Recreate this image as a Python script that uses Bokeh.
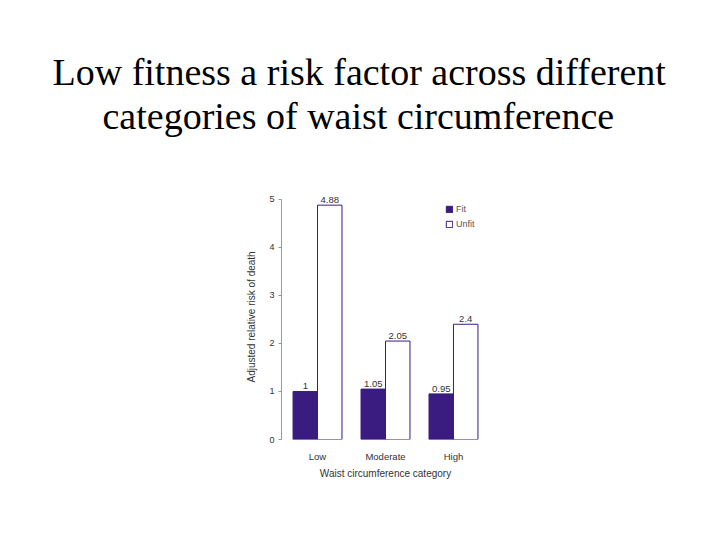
from bokeh.plotting import figure
from bokeh.models import FactorRange, Range1d, Title, ColumnDataSource, Legend, LegendItem, FixedTicker
from bokeh.transform import dodge
from bokeh.core.properties import value
from bokeh.embed import file_html
from bokeh.resources import INLINE

# data
categories = ["Low", "Moderate", "High"]
fit = [1.0, 1.05, 0.95]
unfit = [4.88, 2.05, 2.4]
fit_labels = ["1", "1.05", "0.95"]
unfit_labels = ["4.88", "2.05", "2.4"]
y_ticks = [0, 1, 2, 3, 4, 5]

PURPLE = "#3a1b80"
GREY = "#333333"
SANS = "Liberation Sans"

source = ColumnDataSource(data=dict(cat=categories, fit=fit, unfit=unfit,
                                    fit_lab=fit_labels, unfit_lab=unfit_labels))

# frame runs higher than the axis so the two title lines sit just above it
p = figure(width=704, height=524, output_backend="svg", toolbar_location=None,
           x_range=FactorRange(*categories, range_padding=0.02),
           y_range=Range1d(0, 6.31),
           min_border_left=281, min_border_right=215,
           min_border_top=136, min_border_bottom=85)
p.outline_line_color = None
p.grid.grid_line_color = None

w = 0.36
r_fit = p.vbar(x=dodge("cat", -w / 2, range=p.x_range), top="fit", width=w, source=source,
               fill_color=PURPLE, line_color=PURPLE, line_width=1)
r_unfit = p.vbar(x=dodge("cat", w / 2, range=p.x_range), top="unfit", width=w, source=source,
                 fill_color="white", line_color=PURPLE, line_width=1)

# value labels above bars
p.text(x=dodge("cat", -w / 2, range=p.x_range), y="fit", text="fit_lab", source=source,
       text_align="center", text_baseline="bottom", y_offset=-2,
       text_font=value(SANS), text_font_size="9.5px", text_color=GREY)
p.text(x=dodge("cat", w / 2, range=p.x_range), y="unfit", text="unfit_lab", source=source,
       text_align="center", text_baseline="bottom", y_offset=-2,
       text_font=value(SANS), text_font_size="9.5px", text_color=GREY)

# y axis
p.yaxis.ticker = FixedTicker(ticks=y_ticks)
p.yaxis.bounds = (0, 5)
p.yaxis.major_label_text_font = SANS
p.yaxis.major_label_text_font_size = "9px"
p.yaxis.major_label_text_color = GREY
p.yaxis.axis_line_color = "#999999"
p.yaxis.major_tick_line_color = "#999999"
p.yaxis.major_tick_in = 0
p.yaxis.major_tick_out = 3
p.yaxis.minor_tick_line_color = None
p.yaxis.major_label_standoff = 4

# y label as a side title so it centres on the 0-5 part of the axis
ylab = Title(text="Adjusted relative risk of death", align="left", offset=57, standoff=19,
             text_font=SANS, text_font_size="10px", text_font_style="normal",
             text_color=GREY)
p.add_layout(ylab, "left")

# x axis
p.xaxis.axis_line_color = None
p.xaxis.major_tick_line_color = None
p.xaxis.axis_label = "Waist circumference category"
p.xaxis.axis_label_text_font = SANS
p.xaxis.axis_label_text_font_style = "normal"
p.xaxis.axis_label_text_font_size = "10px"
p.xaxis.axis_label_text_color = GREY
p.xaxis.axis_label_standoff = 3
p.xaxis.major_label_text_font = SANS
p.xaxis.major_label_text_font_size = "9.5px"
p.xaxis.major_label_text_color = GREY
p.xaxis.major_label_standoff = 5

# legend
legend = Legend(items=[LegendItem(label="Fit", renderers=[r_fit]),
                       LegendItem(label="Unfit", renderers=[r_unfit])],
                location=(164, 210), orientation="vertical")
legend.glyph_width = 8
legend.glyph_height = 8
legend.label_height = 10
legend.label_standoff = 3
legend.spacing = 5
legend.padding = 0
legend.margin = 0
legend.border_line_color = None
legend.background_fill_alpha = 0
legend.label_text_font = SANS
legend.label_text_font_size = "9px"
legend.label_text_color = "#555555"
p.add_layout(legend, "center")

# slide title, two lines (inner line added first), left aligned with pixel offsets
for txt, off in [("categories of waist circumference", -179),
                 ("Low fitness a risk factor across different", -229)]:
    t = Title(text=txt, align="left", offset=off, standoff=0,
              text_font="Liberation Serif", text_font_size="38px",
              text_font_style="normal", text_color="black")
    p.add_layout(t, "above")

open("out.html", "w").write(file_html(p, INLINE))
